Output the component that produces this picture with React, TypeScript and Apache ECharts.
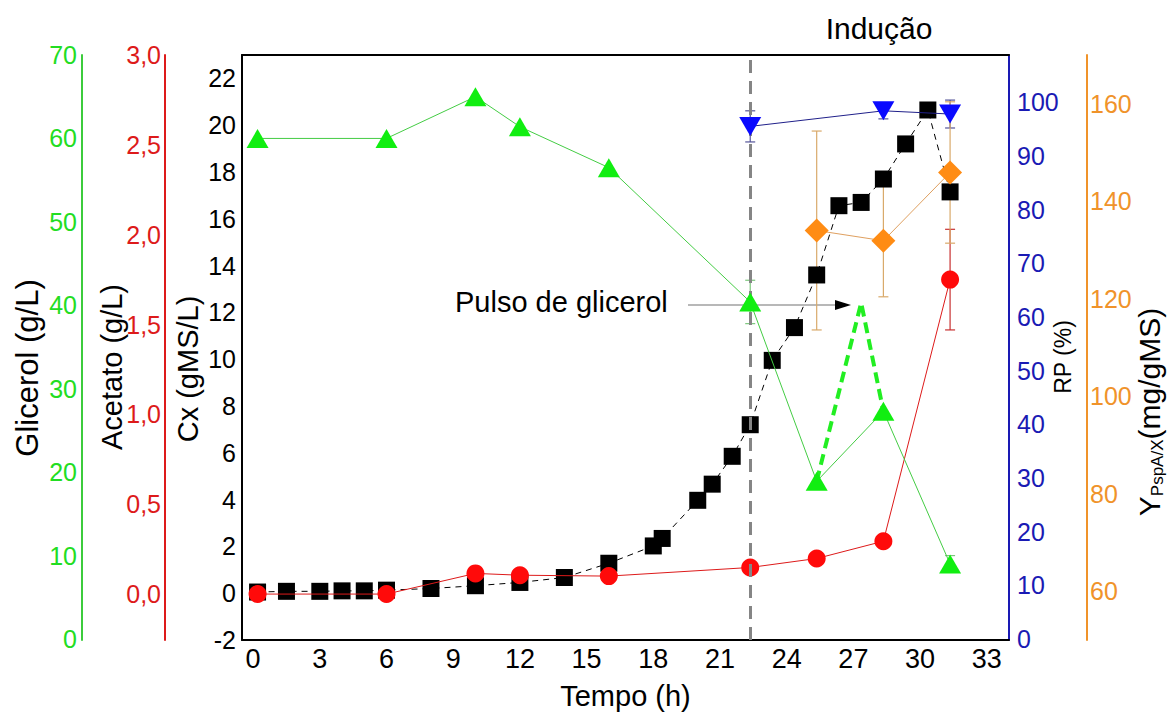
import React, { useEffect, useRef } from "react";
import * as echarts from "echarts";

const FONT = '"Liberation Sans", Arial, Helvetica, sans-serif';

// Biomassa (Cx, gMS/L) ao longo do cultivo
const tempoCx = [0.2, 1.5, 3, 4, 5, 6, 8, 10, 12, 14, 16, 18, 18.4, 20, 20.65, 21.55, 22.36, 23.35, 24.35, 25.35, 26.35, 27.35, 28.35, 29.35, 30.35, 31.35];
const biomassa = [0.05, 0.08, 0.08, 0.1, 0.1, 0.13, 0.2, 0.32, 0.46, 0.67, 1.28, 2.02, 2.34, 3.97, 4.66, 5.85, 7.2, 9.95, 11.35, 13.6, 16.56, 16.7, 17.7, 19.2, 20.65, 17.15];

// Glicerol e acetato (g/L)
const tempoAmostras = [0.2, 6, 10, 12, 16, 22.36, 25.35, 28.35, 31.35];
const glicerol = [60, 60, 65, 61.4, 56.5, 40.4, 18.9, 27.3, 9.0];
const glicerolErro = [0, 0, 0, 0, 0, 2.6, 0, 0, 1.0];
const acetato = [0, 0, 0.115, 0.105, 0.1, 0.148, 0.198, 0.294, 1.75];
const acetatoErro = [0, 0, 0, 0, 0, 0, 0, 0, 0.28];

// Pulso de glicerol (trecho tracejado)
const tempoPulso = [25.35, 27.35, 28.35];
const glicerolPulso = [18.9, 40.3, 27.3];

// RP (%) após a indução
const tempoRP = [22.36, 28.35, 31.35];
const rp = [95.5, 98.4, 97.8];
const rpErro = [2.9, 1.5, 2.6];

// Rendimento Y PspA/X (mg/gMS)
const tempoRend = [25.35, 28.35, 31.35];
const rendimento = [134.0, 131.9, 145.9];
const rendimentoErro = [20.4, 11.5, 14.5];

// Início da indução (h)
const inicioInducao = 22.36;

// Marcas dos eixos
const ticksTempo = [0, 3, 6, 9, 12, 15, 18, 21, 24, 27, 30, 33];
const ticksCx = [-2, 0, 2, 4, 6, 8, 10, 12, 14, 16, 18, 20, 22];
const ticksGlicerol = [0, 10, 20, 30, 40, 50, 60, 70];
const ticksAcetato = [0, 0.5, 1.0, 1.5, 2.0, 2.5, 3.0];
const ticksRP = [0, 10, 20, 30, 40, 50, 60, 70, 80, 90, 100];
const ticksRend = [60, 80, 100, 120, 140, 160];

const VERDE = "#22dd22";
const VERDE_EIXO = "#3ccc3c";
const VERMELHO = "#dd1a1a";
const AZUL = "#1a1ab4";
const LARANJA = "#f0932a";

const pares = (xs: number[], ys: number[]) => xs.map((x, i) => [x, ys[i]]);

const barrasErro = (tempo: number[], valores: number[], erros: number[], yIdx: number, cor: string) => ({
  type: "custom",
  xAxisIndex: 0,
  yAxisIndex: yIdx,
  silent: true,
  z: 1,
  encode: { x: 0, y: [1, 2] },
  data: tempo
    .map((t, i) => (erros[i] > 0 ? [t, valores[i] - erros[i], valores[i] + erros[i]] : null))
    .filter((d) => d !== null),
  renderItem: (_params: any, api: any) => {
    const topo = api.coord([api.value(0), api.value(2)]);
    const base = api.coord([api.value(0), api.value(1)]);
    const meia = 5;
    const style = { stroke: cor, lineWidth: 1.2 };
    return {
      type: "group",
      children: [
        { type: "line", shape: { x1: topo[0], y1: topo[1], x2: base[0], y2: base[1] }, style },
        { type: "line", shape: { x1: topo[0] - meia, y1: topo[1], x2: topo[0] + meia, y2: topo[1] }, style },
        { type: "line", shape: { x1: base[0] - meia, y1: base[1], x2: base[0] + meia, y2: base[1] }, style },
      ],
    };
  },
});

const eixoY = (extra: any) => ({
  type: "value",
  splitLine: { show: false },
  axisTick: { show: false },
  ...extra,
});

// Títulos verticais dos eixos (lidos de baixo para cima)
const tituloVertical = (texto: string, x: number, y: number, tamanho: number, extra: any = {}) => ({
  type: "text",
  x,
  y,
  rotation: Math.PI / 2,
  style: {
    text: texto,
    font: `${tamanho}px ${FONT}`,
    fill: "#000",
    textAlign: "center",
    textVerticalAlign: "middle",
    ...extra,
  },
});

const option: any = {
  animation: false,
  backgroundColor: "#ffffff",
  textStyle: { fontFamily: FONT },
  grid: { left: 242, top: 55, width: 767, height: 586, containLabel: false },
  xAxis: [
    {
      type: "value",
      position: "bottom",
      min: -0.5,
      max: 34,
      splitLine: { show: false },
      axisTick: { show: false },
      axisLine: { show: true, onZero: false, lineStyle: { color: "#000", width: 2 } },
      axisLabel: { customValues: ticksTempo, fontSize: 27, color: "#000", margin: 5, fontFamily: FONT },
      name: "Tempo (h)",
      nameLocation: "middle",
      nameGap: 41,
      nameTextStyle: { fontSize: 29, color: "#000", fontFamily: FONT },
    },
    {
      type: "value",
      position: "top",
      min: -0.5,
      max: 34,
      splitLine: { show: false },
      axisTick: { show: false },
      axisLabel: { show: false },
      axisLine: { show: true, onZero: false, lineStyle: { color: "#000", width: 2 } },
    },
  ],
  yAxis: [
    eixoY({
      position: "left",
      offset: 0,
      min: -2,
      max: 23,
      axisLine: { show: true, onZero: false, lineStyle: { color: "#000", width: 2 } },
      axisLabel: { customValues: ticksCx, fontSize: 25, color: "#000", margin: 6, fontFamily: FONT },
    }),
    eixoY({
      position: "left",
      offset: 77,
      min: -0.2556,
      max: 3.0,
      axisLine: { show: true, onZero: false, lineStyle: { color: VERMELHO, width: 2 } },
      axisLabel: {
        customValues: ticksAcetato,
        fontSize: 25,
        color: VERMELHO,
        margin: 4,
        fontFamily: FONT,
        formatter: (v: number) => v.toFixed(1).replace(".", ","),
      },
    }),
    eixoY({
      position: "left",
      offset: 160,
      min: -0.12,
      max: 70,
      axisLine: { show: true, onZero: false, lineStyle: { color: VERDE_EIXO, width: 2 } },
      axisLabel: { customValues: ticksGlicerol, fontSize: 25, color: VERDE, margin: 5, fontFamily: FONT },
    }),
    eixoY({
      position: "right",
      offset: 0,
      min: -0.2,
      max: 108.8,
      axisLine: { show: true, onZero: false, lineStyle: { color: AZUL, width: 2 } },
      axisLabel: { customValues: ticksRP, fontSize: 25, color: AZUL, margin: 8, fontFamily: FONT },
    }),
    eixoY({
      position: "right",
      offset: 78,
      min: 50,
      max: 170,
      axisLine: { show: true, onZero: false, lineStyle: { color: LARANJA, width: 2 } },
      axisLabel: { customValues: ticksRend, fontSize: 25, color: LARANJA, margin: 3, fontFamily: FONT },
    }),
  ],
  graphic: [
    tituloVertical("Glicerol (g/L)", 27, 368, 31),
    tituloVertical("Acetato (g/L)", 112, 367, 29),
    tituloVertical("Cx (gMS/L)", 188, 369, 29),
    tituloVertical("RP (%)", 1063, 357, 23),
    tituloVertical("{y|Y}{s|PspA/X}{y|(mg/gMS)}", 1149, 412, 30, {
      rich: {
        y: { fontSize: 30, fontFamily: FONT, fill: "#000", lineHeight: 34, verticalAlign: "middle" },
        s: { fontSize: 17, fontFamily: FONT, fill: "#000", lineHeight: 17, verticalAlign: "bottom" },
      },
    }),
    {
      type: "text",
      x: 879,
      y: 28,
      style: { text: "Indução", font: `30px ${FONT}`, fill: "#000", textAlign: "center", textVerticalAlign: "middle" },
    },
    {
      type: "text",
      x: 455,
      y: 302,
      style: { text: "Pulso de glicerol", font: `29px ${FONT}`, fill: "#000", textAlign: "left", textVerticalAlign: "middle" },
    },
    {
      type: "line",
      z: 0,
      shape: { x1: 688, y1: 305, x2: 838, y2: 305 },
      style: { stroke: "#a0a0a0", lineWidth: 1.5 },
    },
    {
      type: "polygon",
      shape: { points: [[835, 300], [851, 305], [835, 310]] },
      style: { fill: "#000" },
    },
  ],
  series: [
    barrasErro(tempoAmostras, glicerol, glicerolErro, 2, "#7cc77c"),
    barrasErro(tempoAmostras, acetato, acetatoErro, 1, "#c83030"),
    barrasErro(tempoRP, rp, rpErro, 3, "#555599"),
    barrasErro(tempoRend, rendimento, rendimentoErro, 4, "#d9a96a"),
    {
      name: "Cx",
      type: "line",
      xAxisIndex: 0,
      yAxisIndex: 0,
      data: pares(tempoCx, biomassa),
      symbol: "rect",
      symbolSize: 17,
      itemStyle: { color: "#000" },
      lineStyle: { color: "#000", width: 1, type: [6, 5] },
      z: 3,
      markLine: {
        silent: true,
        symbol: "none",
        label: { show: false },
        lineStyle: { color: "#858585", width: 3, type: [13, 8] },
        data: [{ xAxis: inicioInducao }],
      },
    },
    {
      name: "Acetato",
      type: "line",
      xAxisIndex: 0,
      yAxisIndex: 1,
      data: pares(tempoAmostras, acetato),
      symbol: "circle",
      symbolSize: 18,
      itemStyle: { color: "#ff0a0a" },
      lineStyle: { color: VERMELHO, width: 1 },
      z: 4,
    },
    {
      name: "Pulso",
      type: "line",
      xAxisIndex: 0,
      yAxisIndex: 2,
      data: pares(tempoPulso, glicerolPulso),
      symbol: "none",
      lineStyle: { color: "#22ee22", width: 4, type: [11, 6] },
      z: 4,
    },
    {
      name: "Glicerol",
      type: "line",
      xAxisIndex: 0,
      yAxisIndex: 2,
      data: pares(tempoAmostras, glicerol),
      symbol: "triangle",
      symbolSize: [22, 19],
      itemStyle: { color: "#11ee11" },
      lineStyle: { color: "#44cc44", width: 1 },
      z: 5,
    },
    {
      name: "RP",
      type: "line",
      xAxisIndex: 0,
      yAxisIndex: 3,
      data: pares(tempoRP, rp),
      symbol: "triangle",
      symbolRotate: 180,
      symbolSize: [22, 19],
      itemStyle: { color: "#0a0aff" },
      lineStyle: { color: "#20208a", width: 1 },
      z: 6,
    },
    {
      name: "Rendimento",
      type: "line",
      xAxisIndex: 0,
      yAxisIndex: 4,
      data: pares(tempoRend, rendimento),
      symbol: "diamond",
      symbolSize: 24,
      itemStyle: { color: "#ff8c14" },
      lineStyle: { color: "#dfa060", width: 1 },
      z: 7,
    },
  ],
};

export default function App() {
  const ref = useRef<HTMLDivElement>(null);
  useEffect(() => {
    if (!ref.current) return;
    const chart = echarts.init(ref.current, null, { renderer: "svg" });
    chart.setOption(option);
    return () => chart.dispose();
  }, []);
  return (
    <div
      ref={ref}
      style={{ position: "absolute", left: 0, top: 0, width: 1171, height: 715, background: "#fff" }}
    />
  );
}
